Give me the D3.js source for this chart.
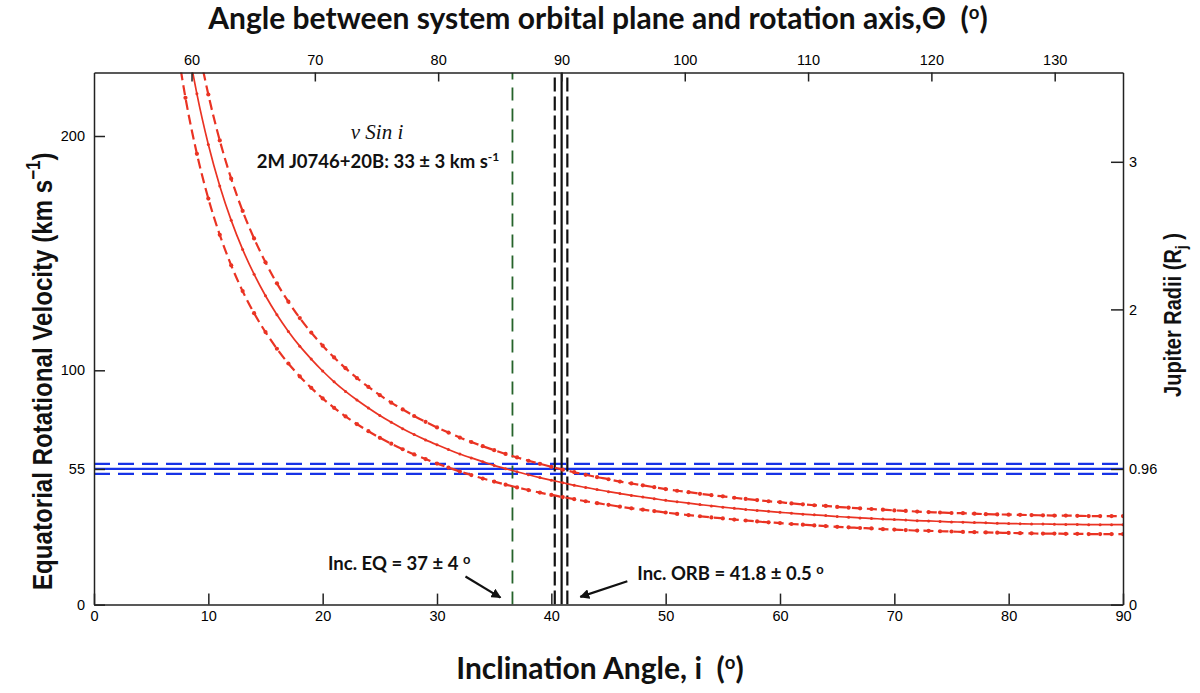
<!DOCTYPE html>
<html>
<head>
<meta charset="utf-8">
<script src="https://cdn.jsdelivr.net/npm/d3@7"></script>
<style>
  body { margin: 0; background: #fff; }
  svg { display: block; }
  text { white-space: pre; }
  .tick text { font-family: "Liberation Sans", Arial, sans-serif; font-size: 14.5px; fill: #000; }
  .domain, .tick line { stroke: #222; stroke-width: 1.5; }
</style>
</head>
<body>
<div id="main"></div>
<script>
// inclination grid (deg) and v/sin(i) curves (km/s)
const incl = [7, 8, 9, 10, 11, 12, 13, 14, 15, 16, 17, 18, 19, 20, 21, 22, 23, 24, 25, 26, 27, 28, 29, 30,
  31, 32, 33, 34, 35, 36, 37, 38, 39, 40, 41, 42, 43, 44, 45, 46, 47, 48, 49, 50, 51, 52, 53, 54, 55, 56,
  57, 58, 59, 60, 61, 62, 63, 64, 65, 66, 67, 68, 69, 70, 71, 72, 73, 74, 75, 76, 77, 78, 79, 80, 81, 82,
  83, 84, 85, 86, 87, 88, 89, 90];
const velMid = [279.8, 245.0, 218.0, 196.4, 178.7, 164.0, 151.6, 141.0, 131.8, 123.7, 116.6, 110.3, 104.8, 99.7,
  95.1, 91.0, 87.3, 83.9, 80.7, 77.8, 75.1, 72.6, 70.3, 68.2, 66.2, 64.3, 62.6, 61.0, 59.4, 58.0, 56.7, 55.4,
  54.2, 53.1, 52.0, 50.9, 50.0, 49.1, 48.2, 47.4, 46.6, 45.9, 45.2, 44.5, 43.9, 43.3, 42.7, 42.1, 41.6, 41.1,
  40.6, 40.2, 39.8, 39.4, 39.0, 38.6, 38.3, 38.0, 37.6, 37.3, 37.0, 36.8, 36.5, 36.3, 36.1, 35.8, 35.7, 35.5,
  35.3, 35.2, 35.0, 34.9, 34.7, 34.6, 34.5, 34.4, 34.4, 34.3, 34.2, 34.2, 34.1, 34.1, 34.1, 34.1];
const velHigh = [310.2, 271.6, 241.6, 217.7, 198.1, 181.8, 168.0, 156.3, 146.1, 137.1, 129.3, 122.3, 116.1, 110.5,
  105.5, 100.9, 96.7, 92.9, 89.4, 86.2, 83.3, 80.5, 78.0, 75.6, 73.4, 71.3, 69.4, 67.6, 65.9, 64.3, 62.8, 61.4,
  60.1, 58.8, 57.6, 56.5, 55.4, 54.4, 53.5, 52.5, 51.7, 50.9, 50.1, 49.3, 48.6, 48.0, 47.3, 46.7, 46.2, 45.6,
  45.1, 44.6, 44.1, 43.7, 43.2, 42.8, 42.4, 42.1, 41.7, 41.4, 41.1, 40.8, 40.5, 40.2, 40.0, 39.7, 39.5, 39.3,
  39.1, 39.0, 38.8, 38.6, 38.5, 38.4, 38.3, 38.2, 38.1, 38.0, 38.0, 37.9, 37.8, 37.8, 37.8, 37.8];
const velLow = [247.0, 216.3, 192.4, 173.3, 157.8, 144.8, 133.8, 124.4, 116.3, 109.2, 102.9, 97.4, 92.5, 88.0,
  84.0, 80.3, 77.0, 74.0, 71.2, 68.7, 66.3, 64.1, 62.1, 60.2, 58.5, 56.8, 55.3, 53.8, 52.5, 51.2, 50.0, 48.9,
  47.8, 46.8, 45.9, 45.0, 44.1, 43.3, 42.6, 41.8, 41.1, 40.5, 39.9, 39.3, 38.7, 38.2, 37.7, 37.2, 36.8, 36.3,
  35.9, 35.5, 35.1, 34.8, 34.4, 34.1, 33.8, 33.5, 33.2, 33.0, 32.7, 32.5, 32.2, 32.0, 31.8, 31.6, 31.5, 31.3,
  31.2, 31.0, 30.9, 30.8, 30.7, 30.6, 30.5, 30.4, 30.3, 30.3, 30.2, 30.2, 30.1, 30.1, 30.1, 30.1];

// equatorial velocity band (upper, centre, lower) in km/s
const bandVel = [60.1, 57.9, 55.8];
// inclination of the equator and of the orbit (lower, centre, upper) in deg
const eqIncl = [36.6];
const orbIncl = [40.3, 40.9, 41.4];

const bottomTicks = [0, 10, 20, 30, 40, 50, 60, 70, 80, 90];
const topTicks = [60, 70, 80, 90, 100, 110, 120, 130];
const leftTicks = [0, 100, 200];
const rightTicks = [0, 2, 3];
const bandVelLabel = "55";
const bandRadLabel = "0.96";

const width = 1200, height = 693;
const plotL = 94, plotR = 1123, plotT = 72.5, plotB = 604.6;

const x = d3.scaleLinear().domain([0, 90]).range([plotL, plotR]);
const y = d3.scaleLinear().domain([0, 227.1]).range([plotB, plotT]);
const theta = d3.scaleLinear().domain([52.09, 135.54]).range([plotL, plotR]);
const rj = d3.scaleLinear().domain([0, 3.605]).range([plotB, plotT]);

const svg = d3.select("#main").append("svg")
  .attr("width", width).attr("height", height)
  .style("background", "#fff");

const defs = svg.append("defs");
defs.append("clipPath").attr("id", "plot")
  .append("rect").attr("x", plotL).attr("y", plotT)
  .attr("width", plotR - plotL).attr("height", plotB - plotT);
defs.append("marker").attr("id", "arrow")
  .attr("viewBox", "0 0 10 10").attr("refX", 9).attr("refY", 5)
  .attr("markerWidth", 4.5).attr("markerHeight", 4.5)
  .attr("orient", "auto")
  .append("path").attr("d", "M0,0 L10,5 L0,10 z").attr("fill", "#111");

const plot = svg.append("g").attr("clip-path", "url(#plot)");

// blue band
plot.selectAll(".band").data(bandVel).join("line")
  .attr("class", "band")
  .attr("x1", plotL).attr("x2", plotR)
  .attr("y1", d => y(d)).attr("y2", d => y(d))
  .attr("stroke", "#1733e6").attr("stroke-width", 2.2)
  .attr("stroke-dasharray", (d, k) => k === 1 ? null : "16,8");

// vertical lines
plot.selectAll(".eq").data(eqIncl).join("line")
  .attr("class", "eq")
  .attr("x1", d => x(d)).attr("x2", d => x(d))
  .attr("y1", plotB).attr("y2", plotT)
  .attr("stroke", "#25632a").attr("stroke-width", 1.8)
  .attr("stroke-dasharray", "13,8");

plot.selectAll(".orb").data(orbIncl).join("line")
  .attr("class", "orb")
  .attr("x1", d => x(d)).attr("x2", d => x(d))
  .attr("y1", plotB).attr("y2", plotT)
  .attr("stroke", "#111").attr("stroke-width", 2.2)
  .attr("stroke-dasharray", (d, k) => k === 1 ? null : "14,5");

// red curves
const curves = [
  { vals: velHigh, dashed: true },
  { vals: velMid, dashed: false },
  { vals: velLow, dashed: true }
];
const line = d3.line()
  .x(d => x(d[0])).y(d => y(d[1]))
  .curve(d3.curveMonotoneX);

curves.forEach(c => {
  const pts = incl.map((d, k) => [d, c.vals[k]]);
  plot.append("path")
    .datum(pts)
    .attr("d", line)
    .attr("fill", "none")
    .attr("stroke", "#ea3323")
    .attr("stroke-width", c.dashed ? 2.2 : 1.7)
    .attr("stroke-dasharray", c.dashed ? "10,5" : null);
  plot.append("g").selectAll("circle").data(pts).join("circle")
    .attr("cx", d => x(d[0])).attr("cy", d => y(d[1]))
    .attr("r", c.dashed ? 2.1 : 1.5)
    .attr("fill", "#ea3323");
});

// axes
svg.append("g").attr("transform", `translate(0,${plotB})`)
  .call(d3.axisBottom(x).tickValues(bottomTicks).tickSizeInner(-11).tickSizeOuter(0).tickPadding(6));
svg.append("g").attr("transform", `translate(0,${plotT})`)
  .call(d3.axisTop(theta).tickValues(topTicks).tickSizeInner(-9).tickSizeOuter(0).tickPadding(8));
const bandVelTick = bandVel[1];
svg.append("g").attr("transform", `translate(${plotL},0)`)
  .call(d3.axisLeft(y).tickValues(leftTicks.concat([bandVelTick]))
    .tickFormat(d => d === bandVelTick ? bandVelLabel : d)
    .tickSizeInner(-11).tickSizeOuter(0).tickPadding(9));
const bandRadTick = rj.invert(y(bandVel[1]));
svg.append("g").attr("transform", `translate(${plotR},0)`)
  .call(d3.axisRight(rj).tickValues(rightTicks.concat([bandRadTick]))
    .tickFormat(d => d === bandRadTick ? bandRadLabel : d)
    .tickSizeInner(-12).tickSizeOuter(0).tickPadding(6));

// titles
const calibri = "Lato, 'Open Sans', sans-serif";
const arial = "'Liberation Sans', Arial, sans-serif";

function degTitle(sel, txt) {
  sel.append("tspan").text(txt);
  sel.append("tspan").attr("font-size", "0.62em").attr("dy", "-0.55em").text("o");
  sel.append("tspan").attr("dy", "0.34em").text(")");
}

const tTop = svg.append("text")
  .attr("x", 598).attr("y", 29)
  .attr("text-anchor", "middle")
  .attr("font-family", calibri).attr("font-weight", 700).attr("font-size", 30)
  .attr("fill", "#111");
degTitle(tTop, "Angle between system orbital plane and rotation axis,\u0398  (");

const tBottom = svg.append("text")
  .attr("x", 600).attr("y", 679)
  .attr("text-anchor", "middle")
  .attr("font-family", calibri).attr("font-weight", 700).attr("font-size", 30)
  .attr("fill", "#111");
degTitle(tBottom, "Inclination Angle, i  (");

const tLeft = svg.append("text")
  .attr("transform", "translate(52,590) rotate(-90) scale(0.862,1)")
  .attr("text-anchor", "start")
  .attr("font-family", arial).attr("font-weight", 700).attr("font-size", 28)
  .attr("fill", "#111");
tLeft.append("tspan").text("Equatorial Rotational Velocity (km s");
tLeft.append("tspan").attr("font-size", "0.7em").attr("dy", "-0.6em").text("\u22121");
tLeft.append("tspan").attr("dy", "0.42em").text(")");

const tRight = svg.append("text")
  .attr("transform", "translate(1181,315) rotate(-90) scale(0.87,1)")
  .attr("text-anchor", "middle")
  .attr("font-family", arial).attr("font-weight", 700).attr("font-size", 23)
  .attr("fill", "#111");
tRight.append("tspan").text("Jupiter Radii (R");
tRight.append("tspan").attr("font-size", "0.7em").attr("dy", "0.35em").text("j");
tRight.append("tspan").attr("dy", "-0.25em").text(" )");

// annotations
svg.append("text")
  .attr("x", 377).attr("y", 139)
  .attr("text-anchor", "middle")
  .attr("font-family", "'Liberation Serif', 'DejaVu Serif', serif")
  .attr("font-style", "italic").attr("font-size", 21)
  .attr("fill", "#111")
  .text("\u03bd Sin i");

const tV = svg.append("text")
  .attr("x", 378).attr("y", 168)
  .attr("text-anchor", "middle")
  .attr("font-family", calibri).attr("font-weight", 700).attr("font-size", 18.5)
  .attr("fill", "#111");
tV.append("tspan").text("2M J0746+20B: 33 \u00b1 3 km s");
tV.append("tspan").attr("font-size", "0.65em").attr("dy", "-0.6em").text("-1");

function degNote(sel, txt) {
  sel.append("tspan").text(txt);
  sel.append("tspan").attr("font-size", "0.7em").attr("dy", "-0.5em").text("o");
}

const tEq = svg.append("text")
  .attr("x", x(eqIncl[0]) - 42).attr("y", 570)
  .attr("text-anchor", "end")
  .attr("font-family", calibri).attr("font-weight", 700).attr("font-size", 18.5)
  .attr("fill", "#111");
degNote(tEq, "Inc. EQ = 37 \u00b1 4 ");

const tOrb = svg.append("text")
  .attr("x", x(orbIncl[2]) + 70).attr("y", 580)
  .attr("text-anchor", "start")
  .attr("font-family", calibri).attr("font-weight", 700).attr("font-size", 18.5)
  .attr("fill", "#111");
degNote(tOrb, "Inc. ORB = 41.8 \u00b1 0.5 ");

// arrows pointing at the lines
svg.append("line")
  .attr("x1", x(eqIncl[0]) - 47).attr("y1", y(12))
  .attr("x2", x(eqIncl[0]) - 12).attr("y2", y(3))
  .attr("stroke", "#111").attr("stroke-width", 2.2)
  .attr("marker-end", "url(#arrow)");
svg.append("line")
  .attr("x1", x(orbIncl[2]) + 60).attr("y1", y(10))
  .attr("x2", x(orbIncl[2]) + 13).attr("y2", y(3.3))
  .attr("stroke", "#111").attr("stroke-width", 2.2)
  .attr("marker-end", "url(#arrow)");
</script>
</body>
</html>
